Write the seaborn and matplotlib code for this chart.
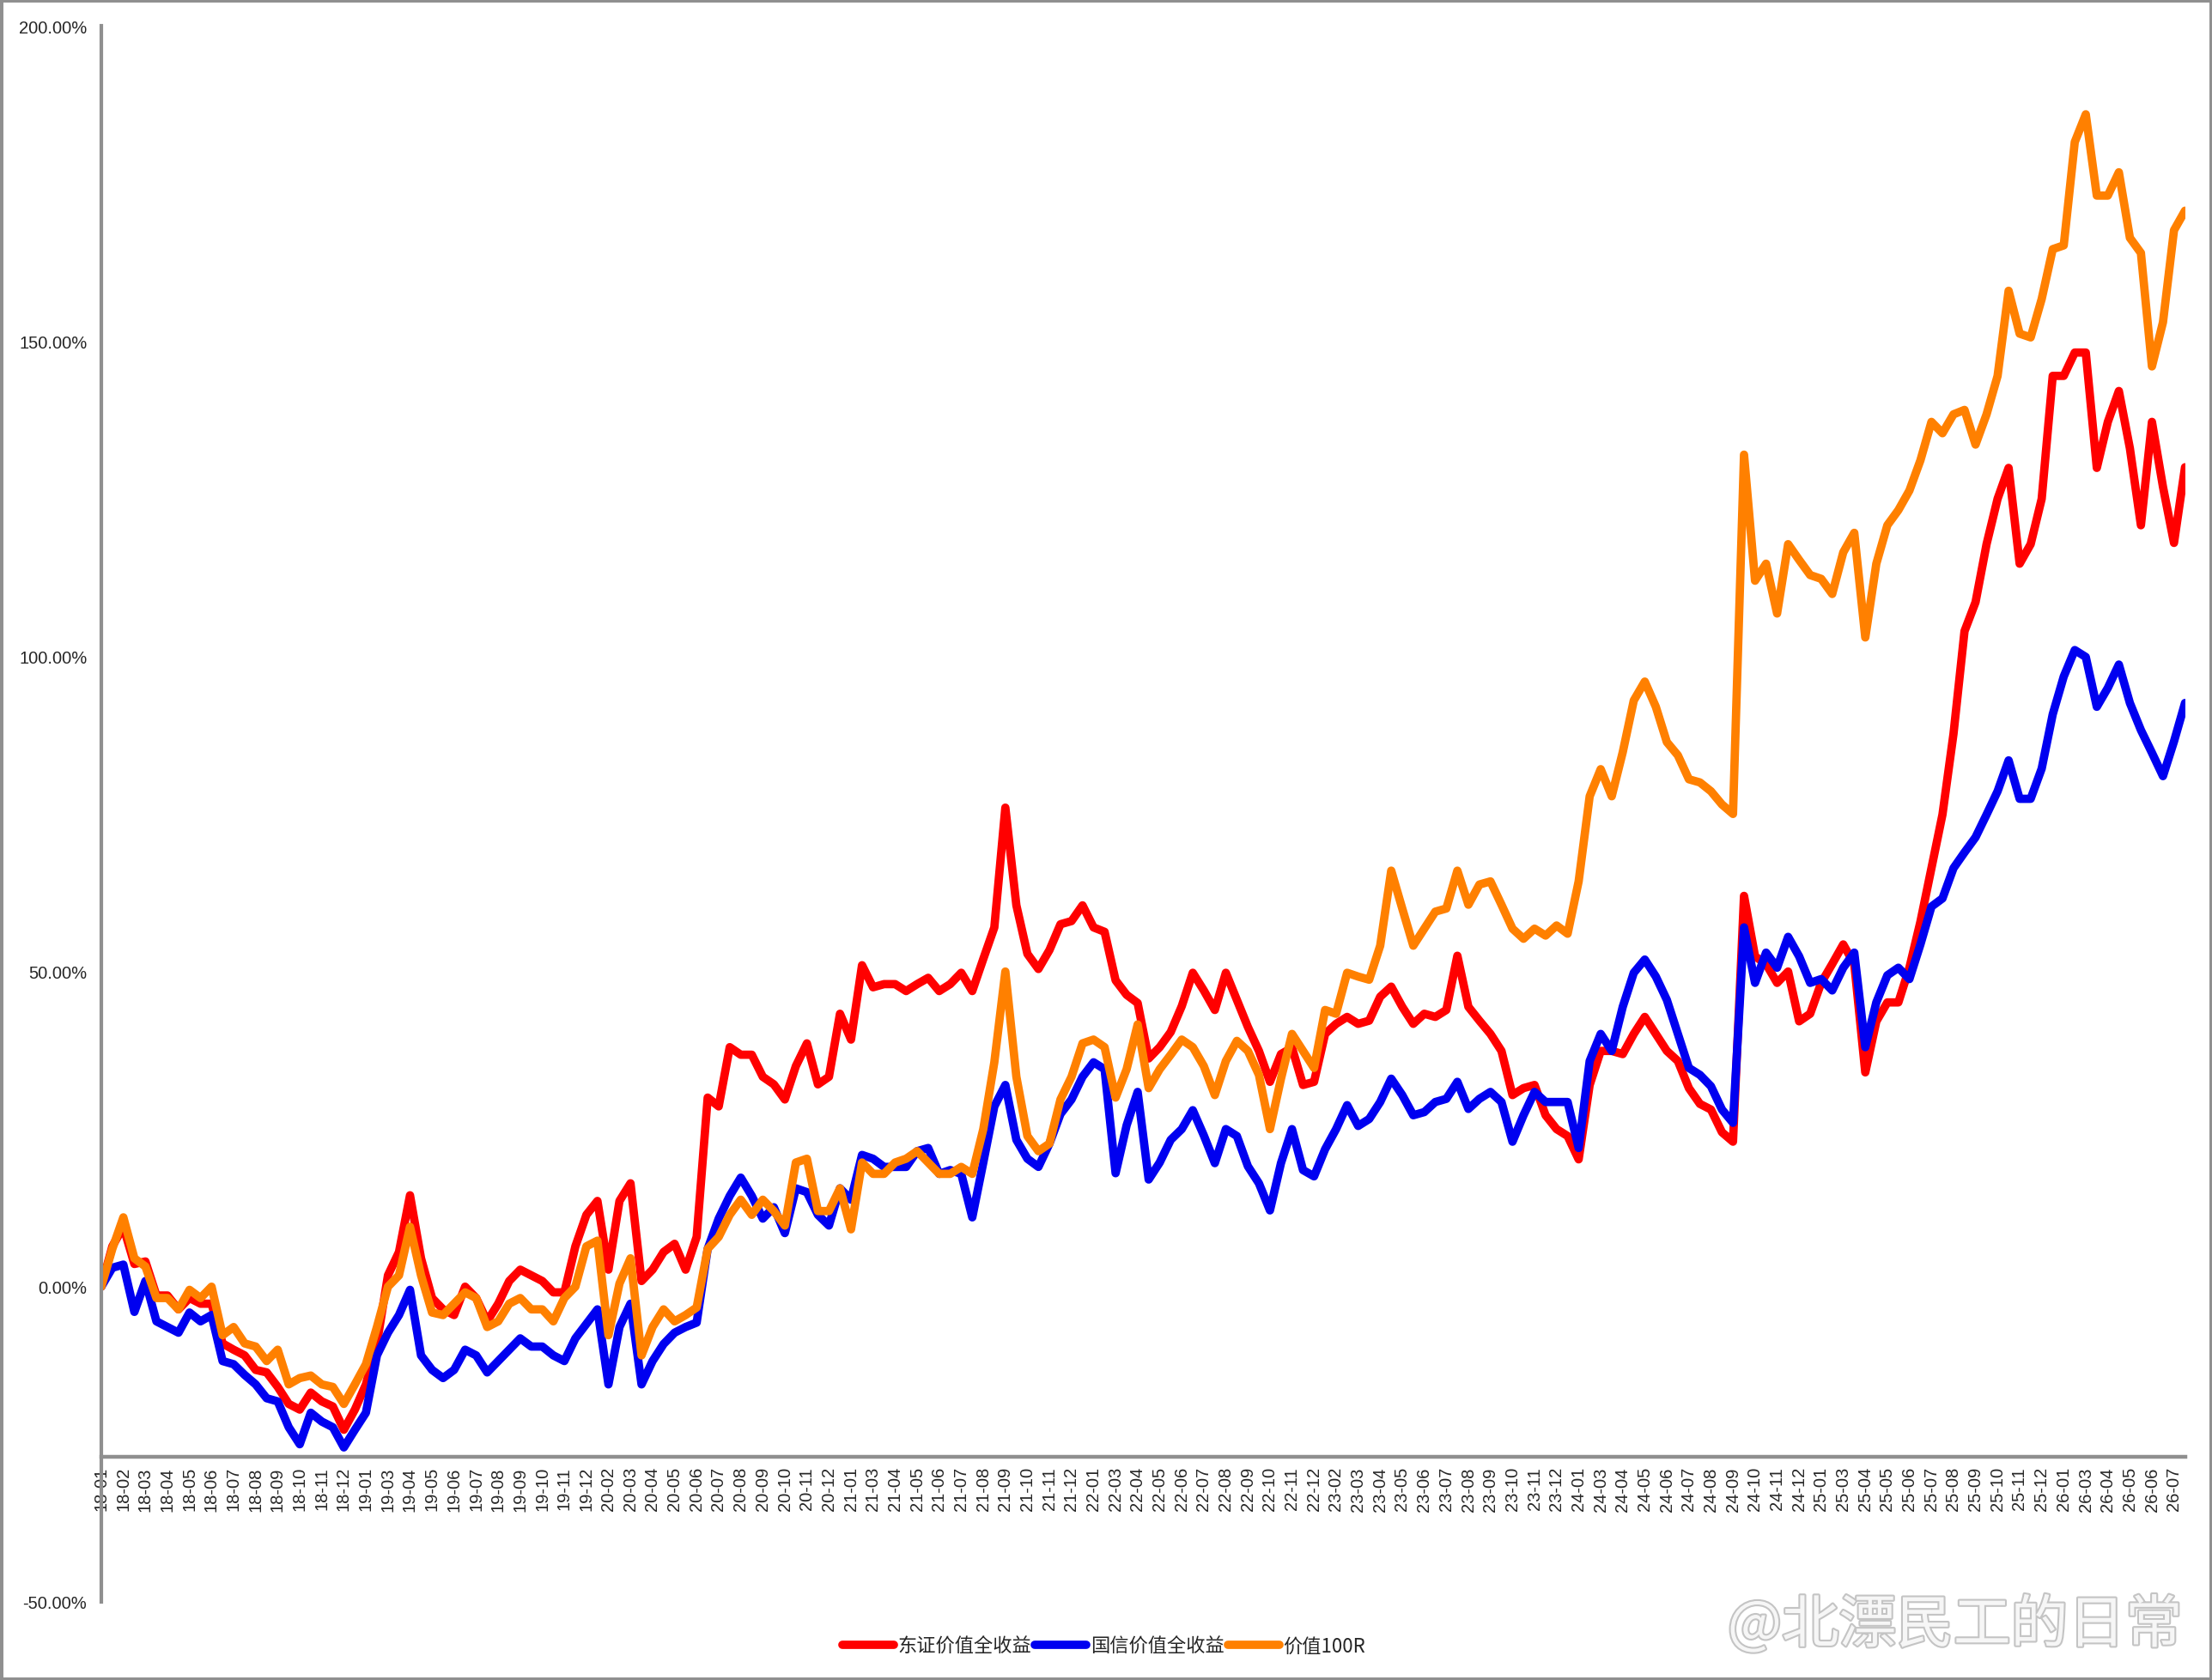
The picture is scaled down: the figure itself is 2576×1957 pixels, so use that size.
import numpy as np
import pandas as pd
import seaborn as sns
import matplotlib
matplotlib.use("Agg")
import matplotlib.pyplot as plt
from matplotlib.lines import Line2D
from matplotlib.patches import Rectangle
import matplotlib.patheffects as pe

# month labels shown under the axis, one per tick
TICK_LABELS = [
    "18-01", "18-02", "18-03", "18-04", "18-05", "18-06", "18-07", "18-08", "18-09", "18-10", "18-11", "18-12",
    "19-01", "19-03", "19-04", "19-05", "19-06", "19-07", "19-08", "19-09", "19-10", "19-11", "19-12",
    "20-02", "20-03", "20-04", "20-05", "20-06", "20-07", "20-08", "20-09", "20-10", "20-11", "20-12",
    "21-01", "21-03", "21-04", "21-05", "21-06", "21-07", "21-08", "21-09", "21-10", "21-11", "21-12",
    "22-01", "22-03", "22-04", "22-05", "22-06", "22-07", "22-08", "22-09", "22-10", "22-11", "22-12",
    "23-02", "23-03", "23-04", "23-05", "23-06", "23-07", "23-08", "23-09", "23-10", "23-11", "23-12",
    "24-01", "24-03", "24-04", "24-05", "24-06", "24-07", "24-08", "24-09", "24-10", "24-11", "24-12",
    "25-01", "25-03", "25-04", "25-05", "25-06", "25-07", "25-08", "25-09", "25-10", "25-11", "25-12",
    "26-01", "26-03", "26-04", "26-05", "26-06", "26-07",
]

# cumulative return in %, sampled twice per tick interval
dongzheng = [
    0, 6.4, 9.5, 3.6, 4, -1.4, -1.4, -3.6, -1.8, -2.7,
    -2.7, -9, -10, -10.9, -13.2, -13.6, -15.9, -18.6, -19.5, -16.8,
    -18.2, -19, -22.7, -19.5, -15.5, -9, 1.8, 5.5, 14.5, 4.5,
    -1.8, -3.6, -4.5, 0, -1.8, -5.5, -2.7, 0.9, 2.7, 1.8,
    0.9, -0.9, -0.9, 6.4, 11.4, 13.6, 2.7, 13.6, 16.4, 0.9,
    2.7, 5.5, 6.8, 2.7, 7.9, 30, 28.6, 38, 36.8, 36.8,
    33.3, 32.1, 29.7, 35, 38.6, 32.1, 33.3, 43.3, 39.2, 51,
    47.5, 48, 48, 46.9, 48, 49, 46.9, 48, 49.8, 46.9,
    52, 57, 76, 60.5, 52.8, 50.4, 53.4, 57.5, 58, 60.5,
    57, 56.3, 48.6, 46.3, 45, 36.2, 38, 40.4, 44.5, 49.8,
    47, 43.9, 49.8, 45.5, 41.2, 37.4, 32.5, 36.9, 37.9, 32,
    32.5, 40.1, 41.7, 42.8, 41.7, 42.2, 46, 47.6, 44.4, 41.7,
    43.3, 42.8, 43.9, 52.5, 44.4, 42.2, 40.1, 37.4, 30.4, 31.5,
    32, 27.2, 25, 23.9, 20.2, 32, 37.4, 37.4, 36.9, 40.1,
    42.8, 40.1, 37.4, 35.8, 31.5, 29, 28.1, 24.5, 23, 62,
    52.4, 51.2, 48.2, 50, 42.1, 43.3, 48.2, 51.2, 54.3, 51.2,
    34, 42.1, 45.1, 45.1, 50.6, 57.9, 66.4, 74.9, 87.7, 104,
    108.6, 117.8, 125, 129.9, 114.7, 117.8, 125, 144.5, 144.5, 148.2,
    148.2, 129.9, 137.2, 142.1, 133, 120.8, 137.2, 126.9, 118, 130,
]

guoxin = [
    0, 3, 3.5, -4, 0.9, -5.5, -6.4, -7.3, -4.1, -5.5,
    -4.5, -11.8, -12.3, -14, -15.5, -17.7, -18.2, -22.3, -25, -20,
    -21.4, -22.3, -25.5, -22.7, -20, -10.9, -7.3, -4.5, -0.5, -10.9,
    -13.2, -14.5, -13.2, -10, -10.9, -13.6, -11.8, -10, -8.2, -9.5,
    -9.5, -10.9, -11.8, -8.2, -5.9, -3.6, -15.5, -6.4, -2.7, -15.5,
    -11.8, -9.1, -7.3, -6.4, -5.7, 6, 10.8, 14.4, 17.3, 14.4,
    10.8, 12.6, 8.5, 15.6, 15, 11.4, 9.7, 15.6, 13.8, 20.9,
    20.3, 19, 19, 19, 21.5, 22, 17.9, 18.5, 17.9, 11,
    19.7, 28.6, 32, 23.3, 20.3, 19, 22.7, 27.4, 29.7, 33.3,
    35.6, 34.5, 18, 25.6, 30.9, 17, 19.7, 23.3, 25, 28,
    24, 19.6, 25, 23.9, 19.1, 16.4, 12.1, 19.6, 25, 18.5,
    17.5, 21.8, 25, 28.8, 25.5, 26.6, 29.3, 33, 30.4, 27.2,
    27.7, 29.3, 29.8, 32.5, 28.2, 29.8, 30.9, 29.3, 23, 27.2,
    30.9, 29.3, 29.3, 29.3, 22, 35.8, 40.1, 37.4, 44.4, 49.8,
    51.9, 49.2, 45.5, 40.1, 34.7, 33.6, 31.8, 28.1, 26, 57,
    48.2, 53, 50.6, 55.5, 52.4, 48.2, 48.8, 47, 50.6, 53,
    38, 45.1, 49.4, 50.6, 48.8, 54.3, 60.3, 61.6, 66.4, 68.9,
    71.3, 74.9, 78.6, 83.5, 77.4, 77.4, 82.2, 90.8, 96.8, 101,
    99.9, 92, 95, 98.7, 92.6, 88.3, 84.7, 81, 86.5, 92.6,
]

value100r = [
    0, 6, 11, 4.5, 3.2, -1.8, -1.8, -3.6, -0.5, -1.8,
    0, -7.7, -6.4, -9, -9.5, -11.8, -10, -15.5, -14.5, -14.1,
    -15.5, -15.9, -18.6, -15.5, -12.3, -6.4, 0, 1.8, 9.5, 1.8,
    -4.1, -4.5, -2.7, -0.9, -1.8, -6.4, -5.5, -2.7, -1.8, -3.6,
    -3.6, -5.5, -1.8, 0, 6.4, 7.3, -7.7, 0.5, 4.5, -10.9,
    -6.4, -3.6, -5.5, -4.5, -3.3, 6, 7.9, 11.4, 13.8, 11.4,
    13.8, 12, 9.7, 19.7, 20.3, 12, 12, 15.6, 9.1, 19.7,
    17.9, 17.9, 19.7, 20.3, 21.5, 19.7, 17.9, 17.9, 19, 17.9,
    25, 35.6, 50, 33.3, 23.9, 21.5, 22.7, 29.7, 33.3, 38.6,
    39.2, 38, 30, 34.5, 41.6, 31.5, 34.5, 36.8, 39.2, 38,
    35, 30.4, 35.8, 39, 37.4, 33.6, 25, 33, 40.1, 37.4,
    34.7, 43.9, 43.3, 49.8, 49.2, 48.7, 54.1, 66, 60, 54.1,
    56.8, 59.5, 60, 66, 60.6, 63.8, 64.3, 60.6, 56.8, 55.2,
    56.8, 55.7, 57.3, 56, 64.3, 77.8, 82.1, 77.8, 84.8, 93,
    96, 92, 86.4, 84.3, 80.5, 80, 78.6, 76.5, 75, 132,
    112, 114.7, 106.8, 117.8, 115.3, 112.9, 112.3, 109.9, 116.5, 119.6,
    103, 114.7, 120.8, 123.2, 126.3, 131.1, 137.2, 135.4, 138.4, 139.1,
    133.6, 138.4, 144.5, 158, 151.2, 150.6, 156.7, 164.6, 165.2, 181.6,
    186, 173.1, 173.1, 176.8, 166.4, 164, 146, 153, 167.6, 170.7,
]

SERIES = [
    ("东证价值全收益", dongzheng, "#FF0000"),
    ("国信价值全收益", guoxin, "#0000F0"),
    ("价值100R", value100r, "#FF8000"),
]
SAMPLES_PER_TICK = 2


def build_frame():
    rows = []
    for name, values, _ in SERIES:
        for i, v in enumerate(values):
            rows.append({"pos": i / SAMPLES_PER_TICK, "ret": v, "series": name})
    return pd.DataFrame(rows)


def main():
    sns.set_style("white")
    plt.rcParams["font.family"] = ["Liberation Sans", "Noto Sans CJK SC", "DejaVu Sans"]

    df = build_frame()
    fig = plt.figure(figsize=(25.76, 19.58), dpi=100)
    ax = fig.add_axes([0.0458, 0.0465, 0.942, 0.9375])

    for name, _, color in SERIES:
        sub = df[df["series"] == name]
        sns.lineplot(data=sub, x="pos", y="ret", color=color, linewidth=7,
                     ax=ax, solid_joinstyle="round", solid_capstyle="round")

    ax.set_xlim(0, 94.5)
    ax.set_ylim(-50, 200)
    ax.set_xlabel("")
    ax.set_ylabel("")

    grey = "#8f8f8f"
    for side in ["top", "right"]:
        ax.spines[side].set_visible(False)
    ax.spines["left"].set_color(grey)
    ax.spines["left"].set_linewidth(3)
    ax.spines["bottom"].set_color(grey)
    ax.spines["bottom"].set_linewidth(3.2)
    ax.spines["bottom"].set_position(("data", -27))

    ax.set_yticks([-50, 0, 50, 100, 150, 200])
    ax.set_yticklabels([f"{v:.2f}%" for v in [-50, 0, 50, 100, 150, 200]], fontsize=14.5)
    ax.set_xticks(np.arange(len(TICK_LABELS)))
    ax.set_xticklabels(TICK_LABELS, rotation=90, fontsize=14.5)
    ax.tick_params(axis="y", direction="out", length=7, width=3, color=grey, pad=5)
    ax.tick_params(axis="x", direction="out", length=4, width=2.5, color=grey, pad=4)
    ax.grid(False)

    handles = [Line2D([0], [0], color=c, linewidth=7, solid_capstyle="round") for _, _, c in SERIES]
    fig.legend(handles, [n for n, _, _ in SERIES], loc="center",
               bbox_to_anchor=(0.499, 0.0205), ncol=3, frameon=False,
               prop={"family": ["Noto Sans CJK SC", "DejaVu Sans"], "size": 16},
               handlelength=2.7, handletextpad=0.2, columnspacing=0.2)

    fig.text(0.781, 0.032, "@北漂民工的日常", fontsize=48, color="#f6f6f6",
             family=["Noto Sans CJK SC", "DejaVu Sans"], va="center", ha="left",
             path_effects=[pe.withStroke(linewidth=3, foreground="#c4c4c4")])

    fig.patches.append(Rectangle((0, 0), 1, 1, transform=fig.transFigure, fill=False,
                                 edgecolor=grey, linewidth=5))

    fig.savefig("out.png", dpi=100, facecolor="white")


if __name__ == "__main__":
    main()
